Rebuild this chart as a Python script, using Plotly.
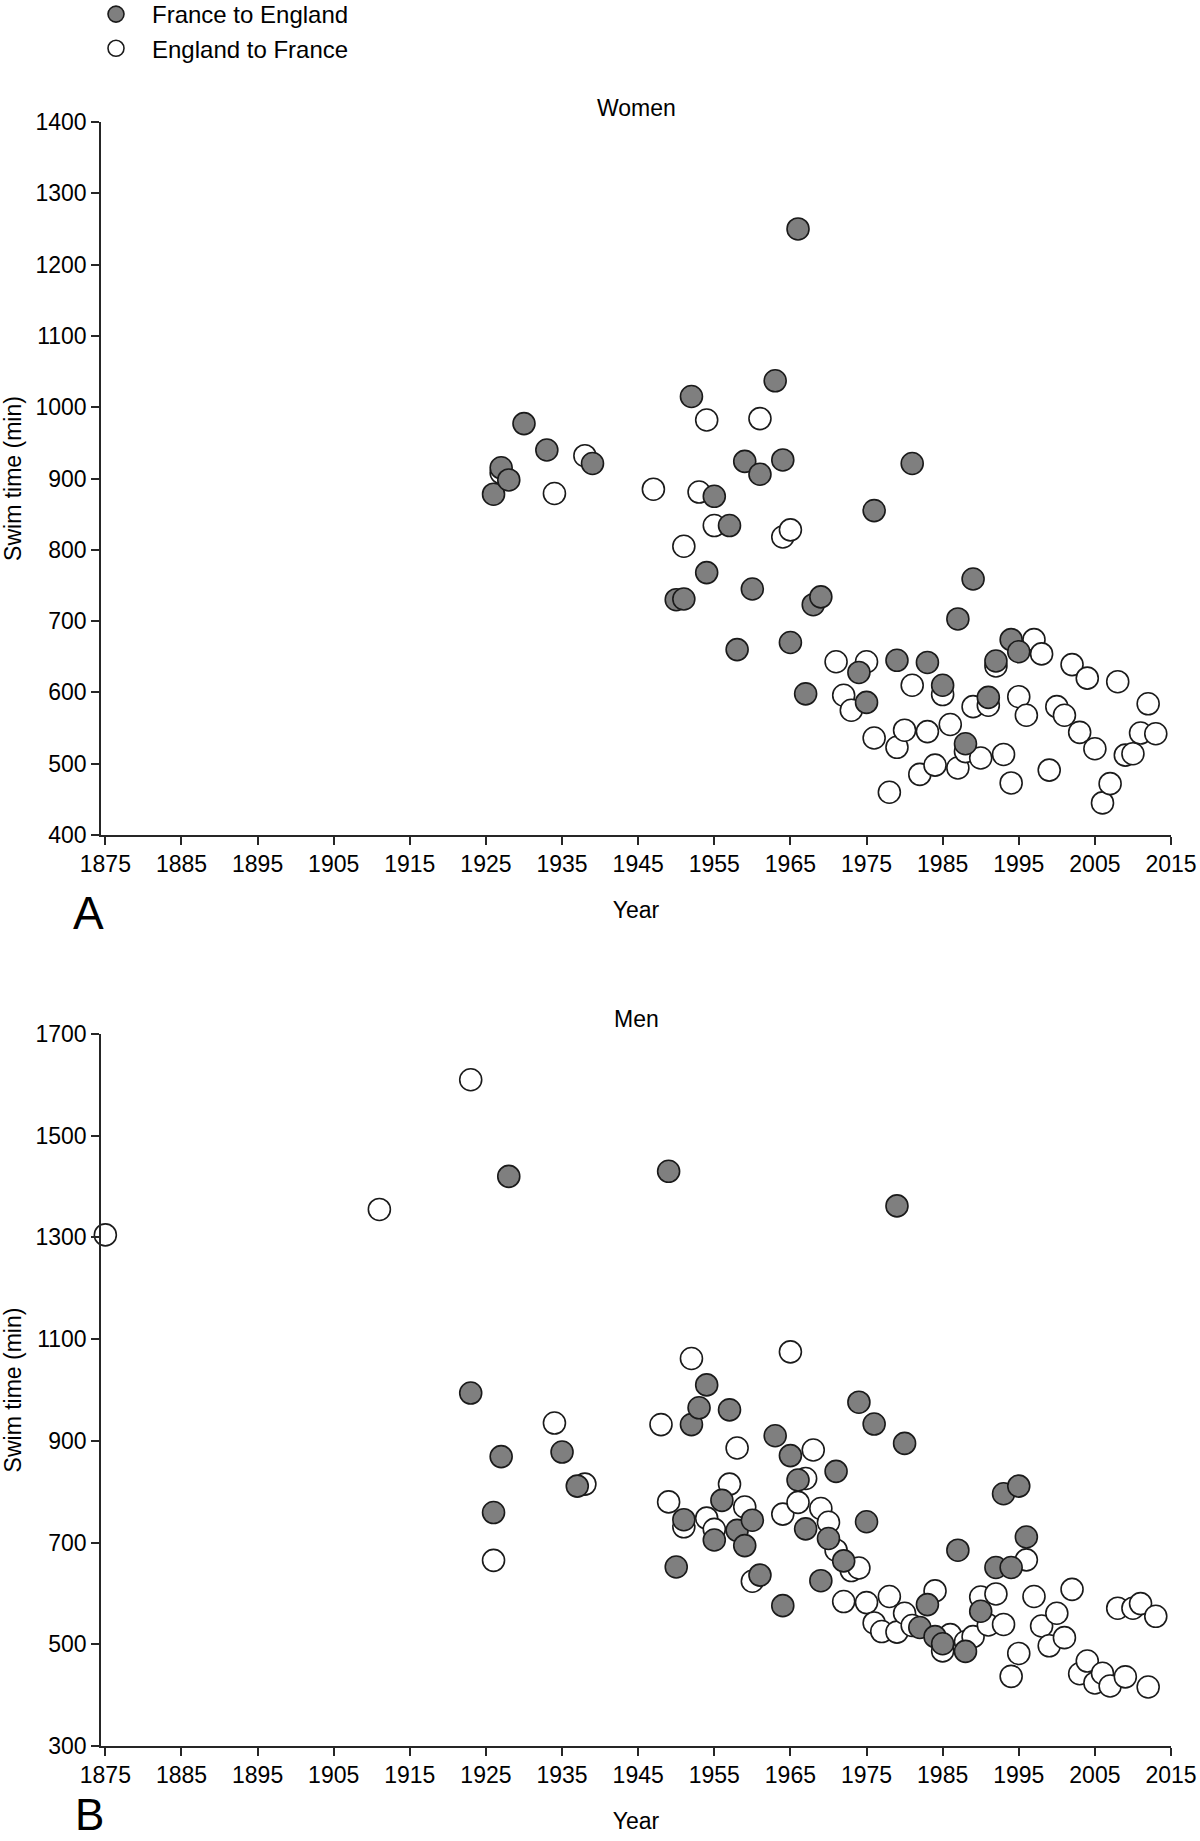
import plotly.graph_objects as go

# ---------------- data ----------------
# Women, France to England (filled grey)
w_fe_year = [1926, 1927, 1928, 1930, 1933, 1939, 1950, 1951, 1952, 1954, 1955, 1957,
             1958, 1959, 1960, 1961, 1963, 1964, 1965, 1966, 1967, 1968, 1969, 1974,
             1975, 1976, 1979, 1981, 1983, 1985, 1987, 1988, 1989, 1991, 1992, 1994, 1995]
w_fe_time = [878, 915, 898, 977, 940, 921, 730, 731, 1015, 768, 875, 834,
             660, 924, 745, 906, 1037, 926, 670, 1250, 598, 723, 734, 628,
             586, 855, 645, 921, 642, 610, 703, 528, 759, 593, 644, 674, 657]

# Women, England to France (open)
w_ef_year = [1927, 1934, 1938, 1947, 1951, 1953, 1954, 1955, 1961, 1964, 1965, 1971,
             1972, 1973, 1975, 1976, 1978, 1979, 1980, 1981, 1982, 1983, 1984, 1985,
             1986, 1987, 1988, 1989, 1990, 1991, 1992, 1993, 1994, 1995, 1996, 1997,
             1998, 1999, 2000, 2001, 2002, 2003, 2004, 2005, 2006, 2007, 2008, 2009,
             2010, 2011, 2012, 2013]
w_ef_time = [908, 879, 932, 885, 805, 881, 982, 834, 984, 818, 828, 643,
             596, 575, 643, 536, 460, 523, 547, 610, 485, 545, 498, 597,
             555, 494, 517, 580, 508, 582, 637, 513, 473, 594, 568, 674,
             654, 491, 580, 568, 639, 544, 620, 521, 445, 472, 615, 512,
             514, 543, 584, 542]

# Men, France to England (filled grey)
m_fe_year = [1923, 1926, 1927, 1928, 1935, 1937, 1949, 1950, 1951, 1952, 1953, 1954,
             1955, 1956, 1957, 1958, 1959, 1960, 1961, 1963, 1964, 1965, 1966, 1967,
             1969, 1970, 1971, 1972, 1974, 1975, 1976, 1979, 1980, 1982, 1983, 1984,
             1985, 1987, 1988, 1990, 1992, 1993, 1994, 1995, 1996]
m_fe_time = [994, 759, 869, 1420, 878, 811, 1430, 652, 745, 932, 965, 1010,
             705, 783, 961, 724, 694, 744, 636, 910, 576, 871, 823, 727,
             625, 708, 840, 664, 976, 741, 933, 1362, 895, 533, 578, 515,
             501, 685, 486, 565, 651, 796, 651, 811, 711]

# Men, England to France (open)
m_ef_year = [1875, 1911, 1923, 1926, 1934, 1938, 1948, 1949, 1951, 1952, 1954, 1955,
             1957, 1958, 1959, 1960, 1964, 1965, 1966, 1967, 1968, 1969, 1970, 1971,
             1972, 1973, 1974, 1975, 1976, 1977, 1978, 1979, 1980, 1981, 1984, 1985,
             1986, 1988, 1989, 1990, 1991, 1992, 1993, 1994, 1995, 1996, 1997, 1998,
             1999, 2000, 2001, 2002, 2003, 2004, 2005, 2006, 2007, 2008, 2009, 2010,
             2011, 2012, 2013]
m_ef_time = [1305, 1355, 1610, 665, 935, 815, 932, 780, 731, 1062, 748, 726,
             815, 886, 770, 624, 756, 1075, 779, 826, 882, 767, 740, 685,
             584, 645, 650, 582, 542, 525, 594, 524, 561, 537, 605, 487,
             519, 505, 515, 593, 538, 599, 539, 437, 482, 666, 594, 536,
             497, 561, 513, 608, 442, 467, 424, 443, 418, 571, 436, 571,
             580, 416, 555]

x_ticks = list(range(1875, 2016, 10))
w_y_ticks = list(range(400, 1401, 100))
m_y_ticks = list(range(300, 1701, 200))

# ---------------- style ----------------
FONT = "Liberation Sans, Arial, sans-serif"
AX = "#262626"
GREY = "#7f7f7f"
MS = 22
W, H = 1200.0, 1841.0
L, R = 101, 29
PW = W - L - R

def marker(fill):
    return dict(size=MS, color=fill, line=dict(color="#1a1a1a", width=1.6))

fig = go.Figure()
# open circles drawn first (grey ones sit on top)
fig.add_trace(go.Scatter(x=w_ef_year, y=w_ef_time, mode="markers", name="England to France",
                         marker=marker("white"), xaxis="x", yaxis="y", cliponaxis=False,
                         legendrank=2))
fig.add_trace(go.Scatter(x=w_fe_year, y=w_fe_time, mode="markers", name="France to England",
                         marker=marker(GREY), xaxis="x", yaxis="y", cliponaxis=False,
                         legendrank=1))
fig.add_trace(go.Scatter(x=m_ef_year, y=m_ef_time, mode="markers", name="England to France",
                         marker=marker("white"), xaxis="x2", yaxis="y2", cliponaxis=False,
                         showlegend=False))
fig.add_trace(go.Scatter(x=m_fe_year, y=m_fe_time, mode="markers", name="France to England",
                         marker=marker(GREY), xaxis="x2", yaxis="y2", cliponaxis=False,
                         showlegend=False))

def dom(top_px, bot_px):
    return [1 - bot_px / H, 1 - top_px / H]

def px_x(px):
    return (px - L) / PW

xcommon = dict(range=[1874.43, 2015], tickvals=x_ticks, ticktext=[str(t) for t in x_ticks],
               showline=True, linecolor=AX, linewidth=1.6, ticks="outside", ticklen=8,
               tickwidth=1.6, tickcolor=AX, showgrid=False, zeroline=False, automargin=False,
               tickfont=dict(family=FONT, size=23, color="black"),
               title=dict(text="Year", font=dict(family=FONT, size=23, color="black"), standoff=25))
ycommon = dict(showline=True, linecolor=AX, linewidth=1.6, ticks="outside", ticklen=8,
               tickwidth=1.6, tickcolor=AX, showgrid=False, zeroline=False, automargin=False,
               tickfont=dict(family=FONT, size=23, color="black"),
               title=dict(text="Swim time (min)", font=dict(family=FONT, size=23, color="black"),
                          standoff=14))

fig.update_layout(
    width=W, height=H,
    margin=dict(l=L, r=R, t=0, b=0, autoexpand=False),
    paper_bgcolor="white", plot_bgcolor="white",
    font=dict(family=FONT, size=23, color="black"),
    xaxis=dict(domain=[0, 1], anchor="y", **xcommon),
    yaxis=dict(domain=dom(122, 835), anchor="x", range=[400, 1400], tickvals=w_y_ticks, **ycommon),
    xaxis2=dict(domain=[0, 1], anchor="y2", **xcommon),
    yaxis2=dict(domain=dom(1034, 1746), anchor="x2", range=[300, 1700], tickvals=m_y_ticks, **ycommon),
    legend=dict(x=px_x(80), y=1 + 8 / H, xanchor="left", yanchor="top", itemwidth=62,
                font=dict(family=FONT, size=24, color="black"), bgcolor="rgba(0,0,0,0)",
                tracegroupgap=0),
    showlegend=True,
    annotations=[
        dict(text="Women", x=0.5, xref="x domain", y=1 - 108 / H, yref="paper",
             xanchor="center", yanchor="middle",
             showarrow=False, font=dict(family=FONT, size=23, color="black")),
        dict(text="Men", x=0.5, xref="x2 domain", y=1 - 1019 / H, yref="paper",
             xanchor="center", yanchor="middle",
             showarrow=False, font=dict(family=FONT, size=23, color="black")),
        dict(text="A", x=px_x(88), xref="paper", y=1 - 913 / H, yref="paper",
             showarrow=False, xanchor="center", yanchor="middle",
             font=dict(family=FONT, size=46, color="black")),
        dict(text="B", x=px_x(89), xref="paper", y=0, yref="paper",
             showarrow=False, xanchor="center", yanchor="bottom",
             font=dict(family=FONT, size=44, color="black")),
    ],
)

fig.write_html("out.html", config={"displayModeBar": False},
               post_script="document.body.style.margin='0';")
